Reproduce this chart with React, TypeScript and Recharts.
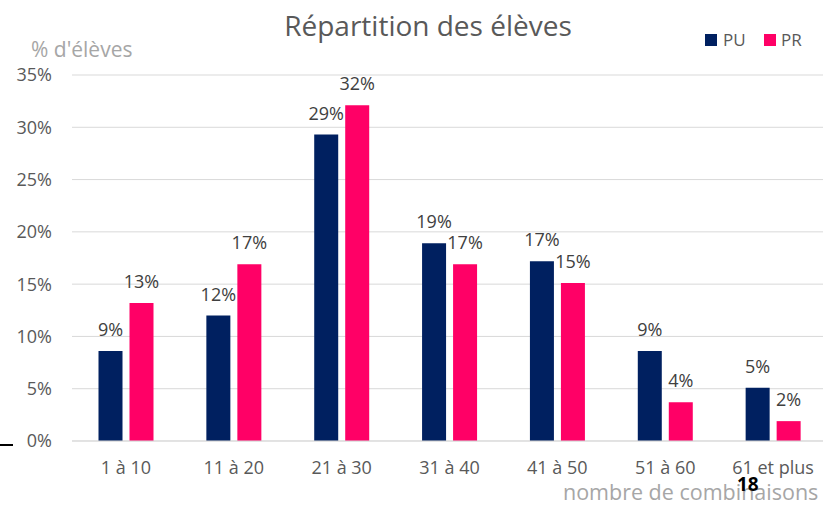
import { Bar, BarChart, CartesianGrid, LabelList, XAxis, YAxis } from "recharts";

// Values (% of pupils)
const CATEGORIES = ["1 à 10", "11 à 20", "21 à 30", "31 à 40", "41 à 50", "51 à 60", "61 et plus"];
const PU_VALUES = [8.6, 12.0, 29.3, 18.9, 17.2, 8.6, 5.1];
const PR_VALUES = [13.2, 16.9, 32.1, 16.9, 15.1, 3.7, 1.9];
const Y_TICKS = [0, 5, 10, 15, 20, 25, 30, 35];

const PU_COLOR = "#002060";
const PR_COLOR = "#ff0066";
const FONT = "'Open Sans', sans-serif";

const data = CATEGORIES.map((name, i) => ({
	name,
	PU: PU_VALUES[i],
	PR: PR_VALUES[i],
}));

const pct = (v: unknown): string => `${Math.round(Number(v))}%`;

export default function App(): React.JSX.Element {
	return (
		<div style={styles.frame}>
			<BarChart
				width={830}
				height={505}
				data={data}
				margin={{ top: 75, right: 3, bottom: 34, left: 0 }}
				barCategoryGap={26.5}
				barGap={7}
				style={{ fontFamily: FONT }}
			>
				<CartesianGrid vertical={false} stroke="#d9d9d9" />
				<XAxis
					dataKey="name"
					height={30}
					tickLine={false}
					axisLine={{ stroke: "#d9d9d9" }}
					tickMargin={14}
					tick={{ fill: "#595959", fontSize: 18, fontFamily: FONT }}
					interval={0}
				/>
				<YAxis
					width={72}
					domain={[0, 35]}
					ticks={Y_TICKS}
					tickFormatter={(v: number) => `${v}%`}
					axisLine={false}
					tickLine={false}
					tickMargin={14}
					tick={{ fill: "#595959", fontSize: 18, fontFamily: FONT }}
				/>
				<Bar dataKey="PU" fill={PU_COLOR} isAnimationActive={false}>
					<LabelList
						dataKey="PU"
						position="top"
						offset={15}
						formatter={pct}
						style={{ fill: "#404040", fontSize: 18, fontFamily: FONT }}
					/>
				</Bar>
				<Bar dataKey="PR" fill={PR_COLOR} isAnimationActive={false}>
					<LabelList
						dataKey="PR"
						position="top"
						offset={15}
						formatter={pct}
						style={{ fill: "#404040", fontSize: 18, fontFamily: FONT }}
					/>
				</Bar>
			</BarChart>

			{/* Titles, legend and stray marks from the slide */}
			<svg width={823} height={505} style={styles.overlay}>
				<text x={428} y={36} textAnchor="middle" fill="#595959" fontSize={28} fontFamily={FONT}>
					Répartition des élèves
				</text>
				<text x={31} y={57} fill="#a6a6a6" fontSize={21} fontFamily={FONT}>
					% d'élèves
				</text>
				<rect x={705} y={34} width={12} height={12} fill={PU_COLOR} />
				<text x={723} y={46} fill="#595959" fontSize={17} fontFamily={FONT}>
					PU
				</text>
				<rect x={764} y={34} width={12} height={12} fill={PR_COLOR} />
				<text x={781} y={46} fill="#595959" fontSize={17} fontFamily={FONT}>
					PR
				</text>
				<text x={563} y={500} fill="#a6a6a6" fontSize={21.5} fontFamily={FONT}>
					nombre de combinaisons
				</text>
				<text x={737} y={491} fill="#000000" fontSize={19} fontWeight="bold" fontFamily={FONT}>
					18
				</text>
				<rect x={0} y={444} width={13} height={2} fill="#000000" />
			</svg>
		</div>
	);
}

const styles = {
	frame: {
		position: "absolute",
		left: 0,
		top: 0,
		width: "823px",
		height: "505px",
		overflow: "hidden",
		backgroundColor: "#ffffff",
	},
	overlay: {
		position: "absolute",
		left: 0,
		top: 0,
		pointerEvents: "none",
	},
} satisfies Record<string, React.CSSProperties>;
